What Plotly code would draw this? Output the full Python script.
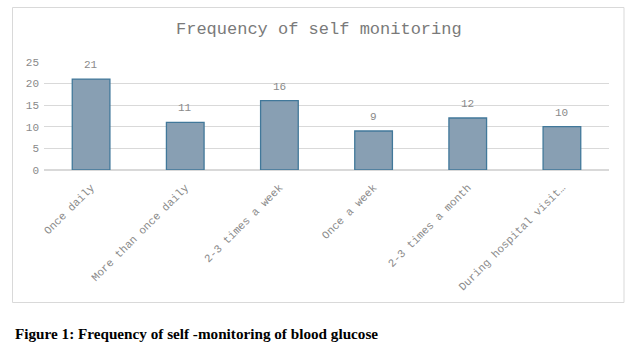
import plotly.graph_objects as go

categories = ["Once daily", "More than once daily", "2-3 times a week",
              "Once a week", "2-3 times a month", "During hospital visit…"]
counts = [21, 11, 16, 9, 12, 10]
y_ticks = [0, 5, 10, 15, 20, 25]
title_text = "Frequency of self monitoring"
caption_text = "Figure 1: Frequency of self -monitoring of blood glucose"

W, H = 638, 347
MONO = "Liberation Mono, Courier New, monospace"
GRAY = "#8a8a8a"

fig = go.Figure()
fig.add_trace(go.Bar(
    x=categories, y=counts,
    marker=dict(color="#889fb3", line=dict(color="#41789a", width=1.3)),
    width=0.4,
    hoverinfo="x+y",
))

for c, v in zip(categories, counts):
    fig.add_annotation(x=c, y=v, text=str(v), showarrow=False, yshift=14,
                       font=dict(family=MONO, size=11, color=GRAY))

# chart border
fig.add_shape(type="rect", xref="paper", yref="paper",
              x0=12.5 / W, x1=624 / W, y0=1 - 302.5 / H, y1=1 - 7.5 / H,
              line=dict(color="#d9d9d9", width=1), layer="below")

fig.add_annotation(xref="paper", yref="paper", x=319 / W, y=1 - 30 / H,
                   text=title_text, showarrow=False, xanchor="center", yanchor="middle",
                   font=dict(family=MONO, size=17, color="#7a7a7a"))

fig.add_annotation(xref="paper", yref="paper", x=12.5 / W, y=1 - 333 / H,
                   text="<b>" + caption_text + "</b>", showarrow=False,
                   xanchor="left", yanchor="middle",
                   font=dict(family="Liberation Serif, Times New Roman, serif", size=15.2, color="#000000"))

fig.update_layout(
    width=W, height=H,
    margin=dict(l=0, r=0, t=0, b=0),
    paper_bgcolor="white", plot_bgcolor="white",
    showlegend=False,
    xaxis=dict(domain=[44 / W, 609 / W], tickangle=-45,
               tickfont=dict(family=MONO, size=11, color=GRAY),
               ticklabelstandoff=8,
               showgrid=False, showline=False, ticks="", automargin=False),
    yaxis=dict(domain=[1 - 170 / H, 1 - 61.7 / H], range=[0, 25],
               tickvals=y_ticks, tickfont=dict(family=MONO, size=11, color=GRAY),
               ticklabelstandoff=4,
               gridcolor="#d9d9d9", gridwidth=1, zeroline=True, zerolinecolor="#d9d9d9",
               showline=False, ticks="", automargin=False),
)

fig.write_html("out.html")
